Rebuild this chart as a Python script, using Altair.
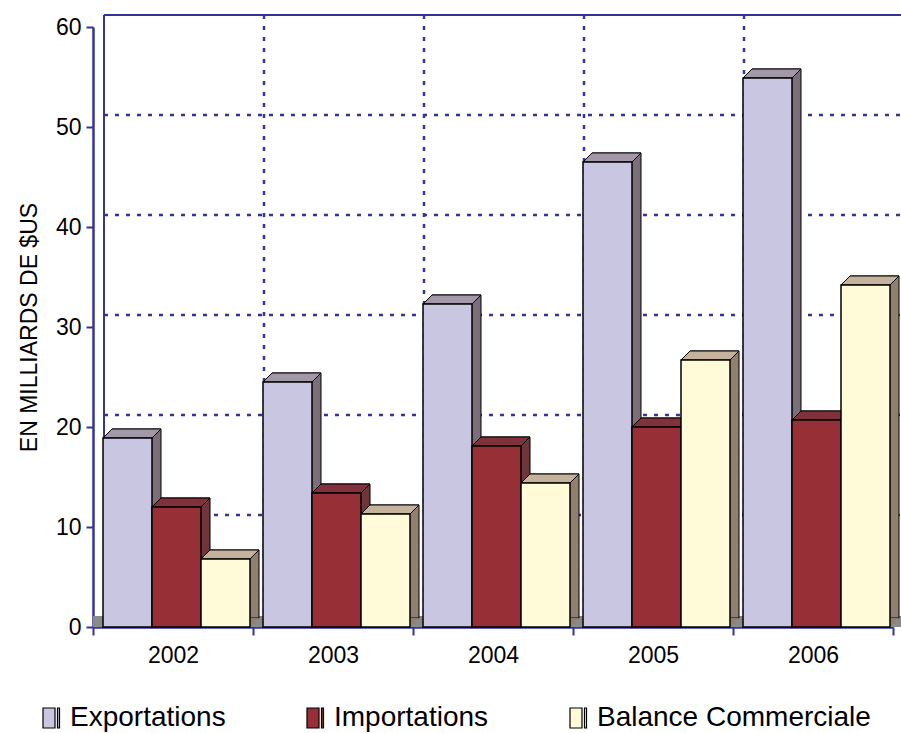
import altair as alt
import pandas as pd

# ---------------- data ----------------
years = ["2002", "2003", "2004", "2005", "2006"]
series = ["Exportations", "Importations", "Balance Commerciale"]
exportations = [18.9, 24.5, 32.3, 46.5, 54.9]
importations = [12.0, 13.4, 18.1, 20.0, 20.7]
balance = [6.8, 11.3, 14.4, 26.7, 34.2]
y_ticks = [0, 10, 20, 30, 40, 50, 60]
grid_values = [10, 20, 30, 40, 50]

# ---------------- style ----------------
FRONT = ["#c8c6e0", "#963036", "#fffad7"]
TOP = ["#a298aa", "#80313a", "#c4b39a"]
SIDE = ["#7b6f7a", "#6e353b", "#908070"]
NAVY = "#333399"
FONT = "Liberation Sans"
W, H = 800, 600

rows = []
for s, vals in zip(series, [exportations, importations, balance]):
    for yr, v in zip(years, vals):
        rows.append({"Year": yr, "Series": s, "Value": v})
df = pd.DataFrame(rows)

x_axis = alt.Axis(title=None, tickBand="extent", labelAngle=0, domainColor=NAVY,
                  domainWidth=2.5, tickColor=NAVY, tickWidth=2, tickSize=8,
                  labelFont=FONT, labelFontSize=23, labelColor="black",
                  labelPadding=9, grid=False)
y_axis = alt.Axis(title="EN MILLIARDS DE $US", values=y_ticks, domainColor=NAVY,
                  domainWidth=2.5, tickColor=NAVY, tickWidth=2, tickSize=7,
                  labelFont=FONT, labelFontSize=23, labelColor="black",
                  labelPadding=5, titleFont=FONT, titleFontSize=23,
                  titleFontWeight="normal", titleColor="black", titlePadding=14,
                  grid=False)

xscale = alt.Scale(paddingInner=0, paddingOuter=0)
yscale = alt.Scale(domain=[0, 60], nice=False)


def X(**kw):
    return alt.X("Year:N", sort=years, scale=xscale, axis=x_axis, **kw)


def Y(field="Value:Q"):
    return alt.Y(field, scale=yscale, axis=y_axis)


def XOFF(shift=0):
    return alt.XOffset("Series:N", sort=series,
                       scale=alt.Scale(type="band", range=[10 + shift, 157 + shift],
                                       paddingInner=0, paddingOuter=0))

# ---------------- back wall grid ----------------
hgrid = alt.Chart(pd.DataFrame({"v": grid_values})).mark_rule(
    color=NAVY, strokeWidth=2.5, strokeDash=[4, 7], yOffset=-12
).encode(y=Y("v:Q"), x=alt.value(11), x2=alt.value(808))

htop = alt.Chart(pd.DataFrame({"v": [60]})).mark_rule(
    color=NAVY, strokeWidth=2, yOffset=-12
).encode(y=Y("v:Q"), x=alt.value(11), x2=alt.value(808))

vgrid = alt.Chart(pd.DataFrame({"Year": years[1:]})).mark_rule(
    color=NAVY, strokeWidth=2.5, strokeDash=[4, 7], xOffset=11, yOffset=-12, y2Offset=-12
).encode(x=X(bandPosition=0), y=alt.datum(60), y2=alt.datum(0))

vwall = alt.Chart(pd.DataFrame({"Year": years[:1]})).mark_rule(
    color=NAVY, strokeWidth=2, xOffset=11, yOffset=-12, y2Offset=-12
).encode(x=X(bandPosition=0), y=alt.datum(60), y2=alt.datum(0))

floor = alt.Chart(pd.DataFrame({"v": [0]})).mark_rect(
    color="#8a8a8a", yOffset=-11
).encode(y=Y("v:Q"), y2=alt.datum(0), x=alt.value(0), x2=alt.value(808))

# ---------------- 3D bars ----------------
base = alt.Chart(df)
DEPTH = 9

depth = base.mark_bar(yOffset=-DEPTH, y2Offset=-DEPTH,
                      stroke="black", strokeWidth=1).encode(
    x=X(), xOffset=XOFF(DEPTH), y=Y(), y2=alt.datum(0),
    fill=alt.Fill("Series:N", scale=alt.Scale(domain=series, range=SIDE), legend=None),
)

# shapes are anchored at the front bar's centre (1 unit = 10 px)
BOTTOM_TRI = "M2.45,-0.9L3.35,-0.9L2.45,0Z"
TOP_FACE = "M-2.45,0L-1.55,-0.9L3.35,-0.9L2.45,0Z"

bottom = base.mark_point(shape=BOTTOM_TRI, size=400, filled=True, opacity=1,
                         strokeWidth=0).encode(
    x=X(), xOffset=XOFF(), y=alt.datum(0),
    fill=alt.Fill("Series:N", scale=alt.Scale(domain=series, range=SIDE), legend=None),
)

top = base.mark_point(shape=TOP_FACE, size=400, filled=True, opacity=1,
                      stroke="black", strokeWidth=1).encode(
    x=X(), xOffset=XOFF(), y=Y(),
    fill=alt.Fill("Series:N", scale=alt.Scale(domain=series, range=TOP), legend=None),
)

LEG_SHAPE = "M-0.9,-1H0.3V1H-0.9Z M0.55,-1H0.75V1H0.55Z"

front = base.mark_bar(stroke="black", strokeWidth=1.5).encode(
    x=X(), xOffset=XOFF(), y=Y(),
    color=alt.Color("Series:N", sort=series,
                    scale=alt.Scale(domain=series, range=FRONT),
                    legend=alt.Legend(orient="none", legendX=-55, legendY=677,
                                      direction="horizontal", title=None,
                                      symbolType=LEG_SHAPE, symbolSize=400,
                                      symbolStrokeColor="black", symbolStrokeWidth=1.2,
                                      labelFont=FONT, labelFontSize=28, labelLimit=500,
                                      labelColor="black", labelOffset=4,
                                      columnPadding=76)),
)

chart = alt.layer(
    floor, hgrid, htop, vgrid, vwall, depth, bottom, top, front
).resolve_scale(fill="independent", xOffset="independent").properties(
    width=W, height=H, autosize="none",
    padding={"left": 93, "top": 27, "right": 8, "bottom": 106},
).configure_view(stroke=None)

chart.save("out.html", embed_options={"renderer": "svg", "actions": False})
